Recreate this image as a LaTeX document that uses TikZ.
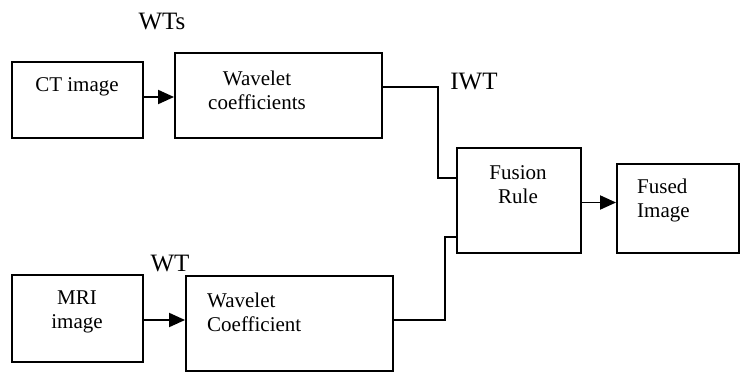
\documentclass[tikz,border=0pt]{standalone}
\usepackage{fontspec}
\setmainfont{Liberation Serif}
\usetikzlibrary{arrows.meta}
\begin{document}
\begin{tikzpicture}[x=1pt,y=-1pt,
  box/.style={draw,line width=1.9pt,minimum width=#1,inner sep=0pt},
  txt/.style={inner sep=0pt,font=\fontsize{21}{24}\selectfont},
  lab/.style={inner sep=0pt,font=\fontsize{25}{28}\selectfont},
  arr/.style={line width=1.9pt,-{Triangle[length=16pt,width=14pt]}},
  con/.style={line width=1.9pt}]
\useasboundingbox (0,0) rectangle (747,372);
% boxes
\node[box=131pt,minimum height=76pt] (ct) at (77.5,100) {};
\node[box=207pt,minimum height=85pt] (wc) at (278.5,95.5) {};
\node[box=124pt,minimum height=105pt] (fr) at (519,200.5) {};
\node[box=122pt,minimum height=89pt] (fi) at (678,208.5) {};
\node[box=131pt,minimum height=87pt] (mri) at (77.5,318.5) {};
\node[box=207pt,minimum height=95pt] (wc2) at (289.5,323.5) {};
% texts
\node[txt] (tct) at (77,87) {CT image};
\node[txt,align=center] (twc) at (257,90) {Wavelet\\coefficients};
\node[txt,align=center] (tfr) at (518,185) {Fusion\\Rule};
\node[txt,align=left,anchor=west] (tfi) at (637,200) {Fused\\Image};
\node[txt,align=center] (tmri) at (77,312) {MRI\\image};
\node[txt,align=left,anchor=west] (twc2) at (207,312) {Wavelet\\Coefficient};
\node[lab] (lwts) at (162,22) {WTs};
\node[lab] (liwt) at (474,82) {IWT};
\node[lab] (lwt) at (170,264) {WT};
% connectors
\draw[arr] ([yshift=3pt]ct.east) -- ([yshift=3pt]ct.east -| wc.west);
\draw[arr] ([yshift=-2pt]fr.east) -- ([yshift=-2pt]fr.east -| fi.west);
\draw[arr] ([yshift=-1.5pt]mri.east) -- ([yshift=-1.5pt]mri.east -| wc2.west);
\coordinate (c1) at (438,87);
\coordinate (c2) at (438,178);
\draw[con] (c1 -| wc.east) -- (c1) -- (c2) -- (c2 -| fr.west);
\coordinate (c3) at (445,320);
\coordinate (c4) at (445,237);
\draw[con] (c3 -| wc2.east) -- (c3) -- (c4) -- (c4 -| fr.west);
\end{tikzpicture}
\end{document}
